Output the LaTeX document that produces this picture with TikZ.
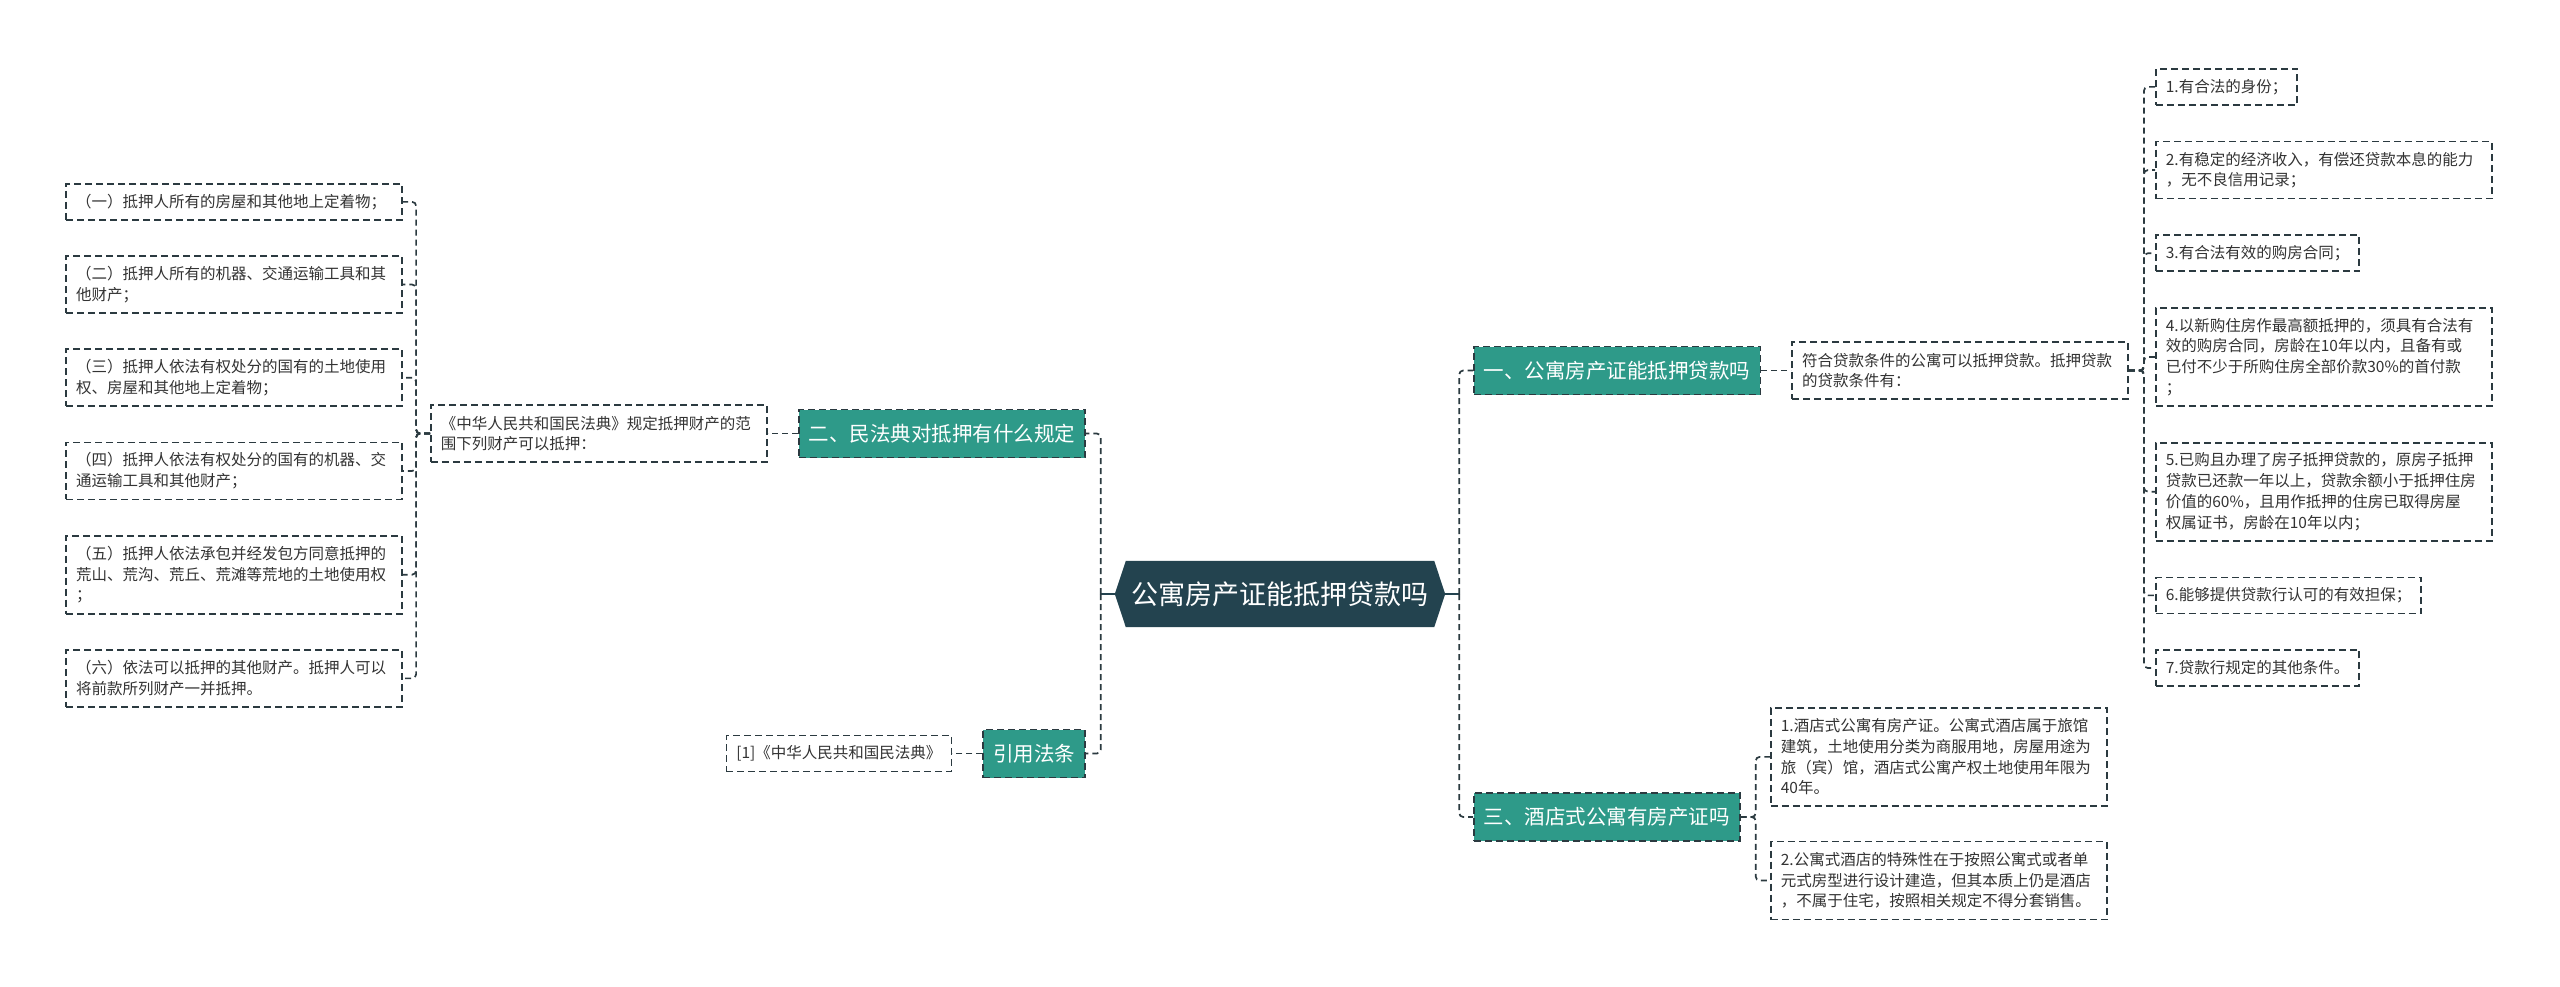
\documentclass[tikz,border=0pt]{standalone}
\usepackage{fontspec}
\setmainfont{Noto Sans CJK SC}
\usepackage{xcolor}
\usepackage{tikz}
\usetikzlibrary{positioning,backgrounds}

\definecolor{rootc}{HTML}{23434F}
\definecolor{branchc}{HTML}{2E9A89}
\definecolor{linec}{HTML}{2B3A40}
\definecolor{txtc}{HTML}{333333}

\begin{document}
\begin{tikzpicture}[
  x=1pt, y=-1pt,
  node distance=30pt,
  leaf/.style={rectangle, draw=linec, dash pattern=on 7pt off 4pt, line width=1.7pt, text=txtc, font=\fontsize{15.5}{20.7}\selectfont, inner xsep=10pt, inner ysep=2pt, minimum height=36pt},
  wide/.style={leaf, text width=316pt, align=left},
  branch/.style={rectangle, draw=linec, fill=branchc, dash pattern=on 7pt off 4pt, line width=1.7pt, text=white, font=\fontsize{20.5}{24}\selectfont, inner xsep=10pt, minimum height=48pt},
  link/.style={draw=linec, dash pattern=on 6pt off 4pt, line width=1.7pt, rounded corners=4pt},
  rootlink/.style={draw=rootc, line width=2pt}
]
\useasboundingbox (0,0) rectangle (2560,986);

% root
\node[text=white, font=\fontsize{27}{30}\selectfont, minimum width=330pt, minimum height=66pt, inner sep=0pt] (root) at (1280,594) {公寓房产证能抵押贷款吗};
\begin{scope}[on background layer]
\fill[white] (0,0) rectangle (2560,986);
\fill[rootc] (root.west) -- ([xshift=11pt]root.north west) -- ([xshift=-11pt]root.north east) -- (root.east) -- ([xshift=-11pt]root.south east) -- ([xshift=11pt]root.south west) -- cycle;
\end{scope}

% main branches
\node[branch, anchor=east] (b2) at (1086,433.5) {二、民法典对抵押有什么规定};
\node[branch, anchor=east] (bcite) at (1086,753.5) {引用法条};
\node[branch, anchor=west] (b1) at (1473,370.5) {一、公寓房产证能抵押贷款吗};
\node[branch, anchor=west] (b3) at (1473,817) {三、酒店式公寓有房产证吗};

\draw[rootlink] (root.west) -- ++(-14,0) coordinate (lspine);
\draw[rootlink] (root.east) -- ++(14,0) coordinate (rspine);
\draw[link] (lspine) |- (b2.east);
\draw[link] (lspine) |- (bcite.east);
\draw[link] (rspine) |- (b1.west);
\draw[link] (rspine) |- (b3.west);

% left: civil code
\node[wide, minimum height=57pt, left=of b2] (c2) {《中华人民共和国民法典》规定抵押财产的范\\围下列财产可以抵押：};
\draw[link] (b2.west) -- (c2.east);

\node[wide, anchor=north east] (l1) at (403,183) {（一）抵押人所有的房屋和其他地上定着物；};
\node[wide, minimum height=57pt, below=34.5pt of l1] (l2) {（二）抵押人所有的机器、交通运输工具和其\\他财产；};
\node[wide, minimum height=57pt, below=34.5pt of l2] (l3) {（三）抵押人依法有权处分的国有的土地使用\\权、房屋和其他地上定着物；};
\node[wide, minimum height=57pt, below=34.5pt of l3] (l4) {（四）抵押人依法有权处分的国有的机器、交\\通运输工具和其他财产；};
\node[wide, minimum height=78pt, below=34.5pt of l4] (l5) {（五）抵押人依法承包并经发包方同意抵押的\\荒山、荒沟、荒丘、荒滩等荒地的土地使用权\\；};
\node[wide, minimum height=57pt, below=34.5pt of l5] (l6) {（六）依法可以抵押的其他财产。抵押人可以\\将前款所列财产一并抵押。};
\foreach \i in {1,...,6}
  \draw[link] (c2.west) -- ++(-14,0) |- (l\i.east);

% left: citation
\node[leaf, left=of bcite] (ccite) {[1]《中华人民共和国民法典》};
\draw[link] (bcite.west) -- (ccite.east);

% right: loan conditions
\node[wide, minimum height=57pt, right=of b1] (c1) {符合贷款条件的公寓可以抵押贷款。抵押贷款\\的贷款条件有：};
\draw[link] (b1.east) -- (c1.west);

\node[leaf, anchor=north west] (r1) at (2155,68) {1.有合法的身份；};
\node[wide, minimum height=57pt, below=35pt of r1.south west, anchor=north west] (r2) {2.有稳定的经济收入，有偿还贷款本息的能力\\，无不良信用记录；};
\node[leaf, below=35pt of r2.south west, anchor=north west] (r3) {3.有合法有效的购房合同；};
\node[wide, minimum height=98pt, below=35pt of r3.south west, anchor=north west] (r4) {4.以新购住房作最高额抵押的，须具有合法有\\效的购房合同，房龄在10年以内，且备有或\\已付不少于所购住房全部价款30\%的首付款\\；};
\node[wide, minimum height=98pt, below=35pt of r4.south west, anchor=north west] (r5) {5.已购且办理了房子抵押贷款的，原房子抵押\\贷款已还款一年以上，贷款余额小于抵押住房\\价值的60\%，且用作抵押的住房已取得房屋\\权属证书，房龄在10年以内；};
\node[leaf, below=35pt of r5.south west, anchor=north west] (r6) {6.能够提供贷款行认可的有效担保；};
\node[leaf, below=35pt of r6.south west, anchor=north west] (r7) {7.贷款行规定的其他条件。};
\foreach \i in {1,...,7}
  \draw[link] (c1.east) -- ++(15,0) |- (r\i.west);

% right: serviced apartments
\node[wide, minimum height=98pt, anchor=north west] (h1) at (1770,707) {1.酒店式公寓有房产证。公寓式酒店属于旅馆\\建筑，土地使用分类为商服用地，房屋用途为\\旅（宾）馆，酒店式公寓产权土地使用年限为\\40年。};
\node[wide, minimum height=78pt, below=34pt of h1] (h2) {2.公寓式酒店的特殊性在于按照公寓式或者单\\元式房型进行设计建造，但其本质上仍是酒店\\，不属于住宅，按照相关规定不得分套销售。};
\foreach \i in {1,2}
  \draw[link] (b3.east) -- ++(15,0) |- (h\i.west);

\end{tikzpicture}
\end{document}
